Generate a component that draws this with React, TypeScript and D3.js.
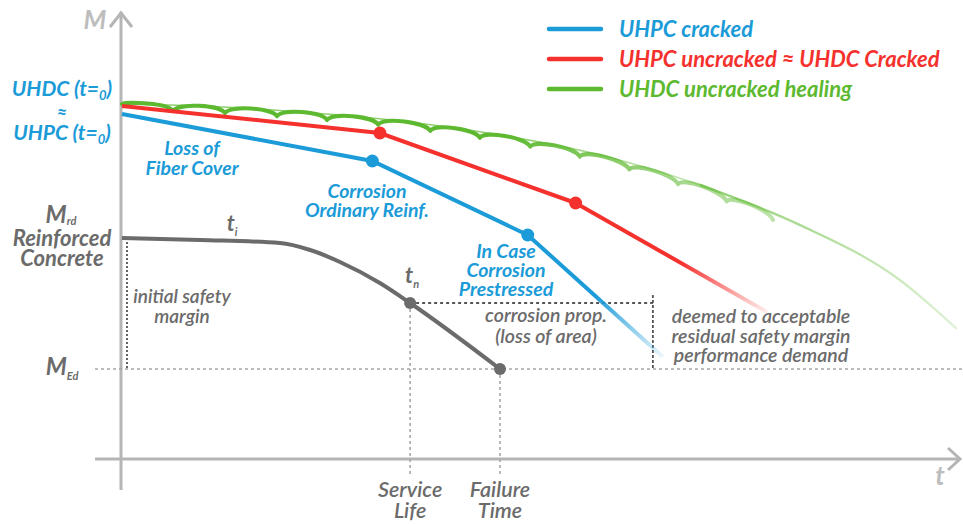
import React from 'react';
import * as d3 from 'd3';

const W = 963;
const H = 524;

// time t (arbitrary units 0–100) and bending moment M (arbitrary units 0–100)
const uhpcCrackedT = [0, 29.8, 48.3, 64.4];
const uhpcCrackedM = [86.25, 74.5, 56, 25.5];
const uhpcUncrackedT = [0, 30.7, 54.0, 76.8];
const uhpcUncrackedM = [88.25, 81.5, 64, 36.75];
const healingT = [0, 9.3, 21.2, 33.1, 45, 56.9, 68.8, 80.7, 92.6, 99.4];
const healingM = [88.75, 88.25, 86.75, 84.5, 81, 76, 68.5, 58.5, 44.75, 32.5];
const healingCrackT = [6.07, 12.26, 18.45, 24.4, 30.5, 36.7, 42.6, 48.6, 54.5, 60.4, 66.2, 72.0, 77.5];
const rcT = [0, 9.29, 18.8, 22.4, 25.95, 30.7, 34.3, 45];
const rcM = [55.25, 54.75, 54, 52.25, 49.25, 44, 39, 22.5];
const M_RD = 55.25;
const M_ED = 22.5;
const T_SERVICE = 34.3;
const T_FAILURE = 45;
const T_RESIDUAL = 63.2;
const T_I = 13.1;
const HEAL_DIP = 1.4;

const legendLabels = ['UHPC cracked', 'UHPC uncracked \u2248 UHDC Cracked', 'UHDC uncracked healing'];

const BLUE = '#1b9bd8';
const RED = '#f5312e';
const GREEN = '#5db92f';
const GRAY = '#6b6b6b';
const AXIS = '#b5b5b5';
const FONT = "Lato, 'Open Sans', 'DejaVu Sans', sans-serif";

const x = d3.scaleLinear().domain([0, 100]).range([122, 962]);
const y = d3.scaleLinear().domain([0, 100]).range([459, 59]);

const zip = (ts: number[], ms: number[]): [number, number][] => ts.map((t, i) => [t, ms[i]]);

const lineGen = d3
  .line<[number, number]>()
  .x((d) => x(d[0]))
  .y((d) => y(d[1]));

const envelope = d3.scaleLinear().domain(healingT).range(healingM);

function scallopPath(): string {
  const p = d3.path();
  const stops = [0, ...healingCrackT];
  const dipPx = y(0) - y(HEAL_DIP);
  for (let i = 0; i < stops.length - 1; i++) {
    const a = stops[i];
    const b = stops[i + 1];
    const x0 = x(a);
    const y0 = y(envelope(a) - (i === 0 ? 0 : HEAL_DIP));
    const x1 = x(b);
    const y1 = y(envelope(b) - HEAL_DIP);
    const w = x1 - x0;
    const c1x = x0 + 0.1 * w;
    const c2x = x1 - 0.1 * w;
    const c1y = y(envelope(x.invert(c1x))) - dipPx * 0.45;
    const c2y = y(envelope(x.invert(c2x))) - dipPx * 0.45;
    p.moveTo(x0, y0);
    p.bezierCurveTo(c1x, c1y, c2x, c2y, x1, y1);
  }
  return p.toString();
}

type LinesProps = { lines: string[]; cx: number; y0: number; dy: number; size: number; color: string; weight?: string };
function Lines({ lines, cx, y0, dy, size, color, weight = 'bold' }: LinesProps) {
  return (
    <g>
      {lines.map((l, i) => (
        <text key={i} x={cx} y={y0 + i * dy} fill={color} fontSize={size} fontStyle="italic" fontWeight={weight} fontFamily={FONT} textAnchor="middle">
          {l}
        </text>
      ))}
    </g>
  );
}

export default function App() {
  const blue = zip(uhpcCrackedT, uhpcCrackedM);
  const red = zip(uhpcUncrackedT, uhpcUncrackedM);
  const green = zip(healingT, healingM);
  const rc = zip(rcT, rcM);

  const smooth = d3
    .line<[number, number]>()
    .x((d) => x(d[0]))
    .y((d) => y(d[1]))
    .curve(d3.curveMonotoneX);

  const bLast = blue.length - 1;
  const rLast = red.length - 1;
  const legendColors = [BLUE, RED, GREEN];
  const tnY = y(rcM[6]);

  return (
    <svg width={W} height={H} style={{ position: 'absolute', left: 0, top: 0, background: '#fff' }}>
      <defs>
        <linearGradient id="gBlue" gradientUnits="userSpaceOnUse" x1={x(blue[bLast - 1][0])} y1={y(blue[bLast - 1][1])} x2={x(blue[bLast][0])} y2={y(blue[bLast][1])}>
          <stop offset="0" stopColor={BLUE} stopOpacity={1} />
          <stop offset="0.5" stopColor={BLUE} stopOpacity={1} />
          <stop offset="1" stopColor={BLUE} stopOpacity={0.08} />
        </linearGradient>
        <linearGradient id="gRed" gradientUnits="userSpaceOnUse" x1={x(red[rLast - 1][0])} y1={y(red[rLast - 1][1])} x2={x(red[rLast][0])} y2={y(red[rLast][1])}>
          <stop offset="0" stopColor={RED} stopOpacity={1} />
          <stop offset="0.55" stopColor={RED} stopOpacity={1} />
          <stop offset="1" stopColor={RED} stopOpacity={0.08} />
        </linearGradient>
        <linearGradient id="gGreen" gradientUnits="userSpaceOnUse" x1={x(45)} y1={0} x2={x(99.4)} y2={0}>
          <stop offset="0" stopColor={GREEN} stopOpacity={1} />
          <stop offset="0.4" stopColor={GREEN} stopOpacity={0.55} />
          <stop offset="1" stopColor={GREEN} stopOpacity={0.12} />
        </linearGradient>
      </defs>

      {/* axes */}
      <line x1={x(0) - 1} y1={490} x2={x(0) - 1} y2={12} stroke={AXIS} strokeWidth={3} />
      <polyline points={`${x(0) - 12},27 ${x(0) - 1},13 ${x(0) + 10},27`} fill="none" stroke={AXIS} strokeWidth={3} />
      <line x1={95} y1={y(0)} x2={960} y2={y(0)} stroke={AXIS} strokeWidth={3} />
      <polyline points={`948,${y(0) - 11} 960,${y(0)} 948,${y(0) + 11}`} fill="none" stroke={AXIS} strokeWidth={3} />
      <text x={95} y={29} fill="#bdbdbd" fontSize={26} fontWeight="bold" fontStyle="italic" fontFamily={FONT} textAnchor="middle">M</text>
      <text x={940} y={485} fill="#bdbdbd" fontSize={26} fontWeight="bold" fontStyle="italic" fontFamily={FONT} textAnchor="middle">t</text>

      {/* reference lines */}
      <line x1={95} y1={y(M_ED)} x2={963} y2={y(M_ED)} stroke="#a8a8a8" strokeWidth={1.6} strokeDasharray="3,3" />
      <line x1={x(0) + 5} y1={y(M_RD) + 4} x2={x(0) + 5} y2={y(M_ED)} stroke="#555" strokeWidth={1.8} strokeDasharray="2,2" />
      <line x1={x(T_SERVICE)} y1={tnY} x2={x(T_RESIDUAL)} y2={tnY} stroke="#555" strokeWidth={1.8} strokeDasharray="3,3" />
      <line x1={x(T_RESIDUAL)} y1={tnY - 8} x2={x(T_RESIDUAL)} y2={y(M_ED)} stroke="#555" strokeWidth={1.8} strokeDasharray="3,2" />
      <line x1={x(T_SERVICE)} y1={tnY} x2={x(T_SERVICE)} y2={476} stroke="#a8a8a8" strokeWidth={1.6} strokeDasharray="3,3" />
      <line x1={x(T_FAILURE)} y1={y(M_ED)} x2={x(T_FAILURE)} y2={476} stroke="#a8a8a8" strokeWidth={1.6} strokeDasharray="3,3" />

      {/* reinforced concrete */}
      <path d={smooth(rc) || ''} fill="none" stroke={GRAY} strokeWidth={4} />
      <circle cx={x(rcT[6])} cy={tnY} r={6} fill={GRAY} />
      <circle cx={x(rcT[7])} cy={y(rcM[7])} r={6} fill={GRAY} />

      {/* green healing */}
      <path d={smooth(green) || ''} fill="none" stroke="url(#gGreen)" strokeWidth={1.6} opacity={0.7} />
      <path d={smooth(green.filter((d) => d[0] >= 68.8)) || ''} fill="none" stroke="url(#gGreen)" strokeWidth={2.5} />
      <path d={scallopPath()} fill="none" stroke="url(#gGreen)" strokeWidth={4} strokeLinecap="round" />

      {/* red */}
      <path d={lineGen(red.slice(0, rLast)) || ''} fill="none" stroke={RED} strokeWidth={4} />
      <path d={lineGen(red.slice(rLast - 1)) || ''} fill="none" stroke="url(#gRed)" strokeWidth={4} />
      {red.slice(1, rLast).map((d, i) => (
        <circle key={i} cx={x(d[0])} cy={y(d[1])} r={6.5} fill={RED} />
      ))}

      {/* blue */}
      <path d={lineGen(blue.slice(0, bLast)) || ''} fill="none" stroke={BLUE} strokeWidth={4} />
      <path d={lineGen(blue.slice(bLast - 1)) || ''} fill="none" stroke="url(#gBlue)" strokeWidth={4} />
      {blue.slice(1, bLast).map((d, i) => (
        <circle key={i} cx={x(d[0])} cy={y(d[1])} r={6.5} fill={BLUE} />
      ))}

      {/* legend */}
      {legendLabels.map((l, i) => (
        <g key={l}>
          <line x1={549} x2={601} y1={29 + i * 30} y2={29 + i * 30} stroke={legendColors[i]} strokeWidth={4.5} strokeLinecap="round" />
          <text x={619} y={37 + i * 30} fill={legendColors[i]} fontSize={22} fontWeight="bold" fontStyle="italic" fontFamily={FONT}>
            {l}
          </text>
        </g>
      ))}

      {/* left labels */}
      <text x={62} y={96} fill={BLUE} fontSize={21} fontWeight="bold" fontStyle="italic" fontFamily={FONT} textAnchor="middle">
        UHDC (t=<tspan fontSize={13} dy={4}>0</tspan><tspan dy={-4}>)</tspan>
      </text>
      <text x={62} y={119} fill={BLUE} fontSize={18} fontWeight="bold" fontStyle="italic" fontFamily={FONT} textAnchor="middle">{'\u2248'}</text>
      <text x={62} y={140} fill={BLUE} fontSize={21} fontWeight="bold" fontStyle="italic" fontFamily={FONT} textAnchor="middle">
        UHPC (t=<tspan fontSize={13} dy={4}>0</tspan><tspan dy={-4}>)</tspan>
      </text>

      <text x={61} y={223} fill={GRAY} fontSize={24} fontWeight="bold" fontStyle="italic" fontFamily={FONT} textAnchor="middle">
        M<tspan fontSize={11} dy={2}>rd</tspan>
      </text>
      <Lines lines={['Reinforced', 'Concrete']} cx={62} y0={246} dy={20} size={22} color={GRAY} />
      <text x={62} y={375} fill={GRAY} fontSize={24} fontWeight="bold" fontStyle="italic" fontFamily={FONT} textAnchor="middle">
        M<tspan fontSize={11} dy={5}>Ed</tspan>
      </text>

      <text x={x(T_I)} y={231} fill={GRAY} fontSize={22} fontWeight="bold" fontStyle="italic" fontFamily={FONT} textAnchor="middle">
        t<tspan fontSize={11} dy={5}>i</tspan>
      </text>
      <text x={x(T_SERVICE) + 2} y={283} fill={GRAY} fontSize={22} fontWeight="bold" fontStyle="italic" fontFamily={FONT} textAnchor="middle">
        t<tspan fontSize={11} dy={5}>n</tspan>
      </text>

      {/* blue annotations */}
      <Lines lines={['Loss of', 'Fiber Cover']} cx={192} y0={155} dy={20} size={19.5} color={BLUE} />
      <Lines lines={['Corrosion', 'Ordinary Reinf.']} cx={367} y0={198} dy={19} size={19.5} color={BLUE} />
      <Lines lines={['In Case', 'Corrosion', 'Prestressed']} cx={506} y0={258} dy={19} size={19.5} color={BLUE} />

      {/* gray annotations */}
      <Lines lines={['initial safety', 'margin']} cx={182} y0={303} dy={20} size={19} color={GRAY} weight="600" />
      <Lines lines={['corrosion prop.', '(loss of area)']} cx={546} y0={322} dy={21} size={19.5} color={GRAY} weight="600" />
      <Lines lines={['deemed to acceptable', 'residual safety margin', 'performance demand']} cx={761} y0={323} dy={19.5} size={19.5} color={GRAY} weight="600" />
      <Lines lines={['Service', 'Life']} cx={x(T_SERVICE)} y0={497} dy={21} size={21.5} color={GRAY} weight="600" />
      <Lines lines={['Failure', 'Time']} cx={x(T_FAILURE)} y0={497} dy={21} size={21.5} color={GRAY} weight="600" />
    </svg>
  );
}
